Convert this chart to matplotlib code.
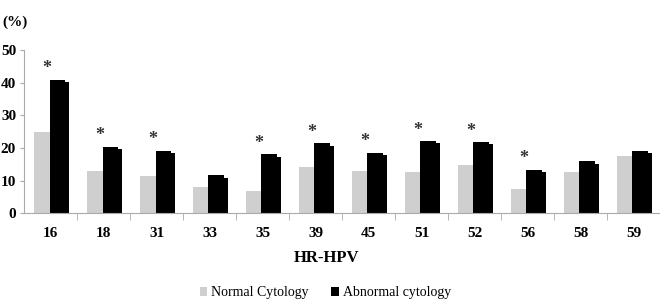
import numpy as np
from matplotlib import pyplot as plt

plt.rc("font", family="Liberation Serif")

types = ["16", "18", "31", "33", "35", "39", "45", "51", "52", "56", "58", "59"]
normal = [24.8, 13.1, 11.3, 8.0, 6.8, 14.1, 13.1, 12.7, 14.9, 7.6, 12.7, 17.5]
abnormal = [40.8, 20.3, 19.2, 11.6, 18.1, 21.4, 18.5, 22.1, 21.8, 13.3, 15.9, 19.2]
signif = [True, True, True, False, True, True, True, True, True, True, False, False]

fig = plt.figure(figsize=(6.6, 3.01), dpi=100)
ax = fig.add_axes([0.037, 0.291, 0.963, 0.543])

x = np.arange(len(types))
w = 0.29
ax.bar(x - 0.17, normal, w, color="#cfcfcf", label="Normal Cytology")
# shadow step on the abnormal bars
ax.bar(x + 0.16, np.array(abnormal) - 0.7, w + 0.08, color="black")
ax.bar(x + 0.12, abnormal, w, color="black", label="Abnormal cytology")

for xi, v, s in zip(x, abnormal, signif):
    if s:
        ax.text(xi - 0.07, v + 0.8, "*", ha="center", va="bottom",
                fontsize=13, fontweight="bold", color="#333333")

ax.set_xlim(-0.5, len(types) - 0.5)
ax.set_ylim(0, 50)
ax.set_yticks(range(0, 51, 10))
ax.set_yticklabels([str(v) for v in range(0, 51, 10)], fontsize=11, fontweight="bold")
ax.set_xticks(x)
ax.set_xticklabels(types, fontsize=11, fontweight="bold")
ax.set_xticks(np.arange(len(types)) + 0.5, minor=True)
ax.tick_params(axis="x", which="major", length=0, pad=10)
ax.tick_params(axis="x", which="minor", length=5, color="#aaaaaa")
ax.tick_params(axis="y", length=3, color="#aaaaaa", pad=3)

for side in ["top", "right"]:
    ax.spines[side].set_visible(False)
for side in ["left", "bottom"]:
    ax.spines[side].set_color("#aaaaaa")

fig.text(0.003, 0.927, "(%)", fontsize=11, fontweight="bold", va="center")
fig.text(0.495, 0.142, "HR-HPV", fontsize=12, fontweight="bold", ha="center", va="center")

handles, labels = ax.get_legend_handles_labels()
fig.legend(handles, labels, loc="center", bbox_to_anchor=(0.493, 0.027),
           ncol=2, frameon=False, fontsize=10, handlelength=0.55, handleheight=0.55,
           handletextpad=0.3, columnspacing=1.6)

fig.savefig("out.png")
